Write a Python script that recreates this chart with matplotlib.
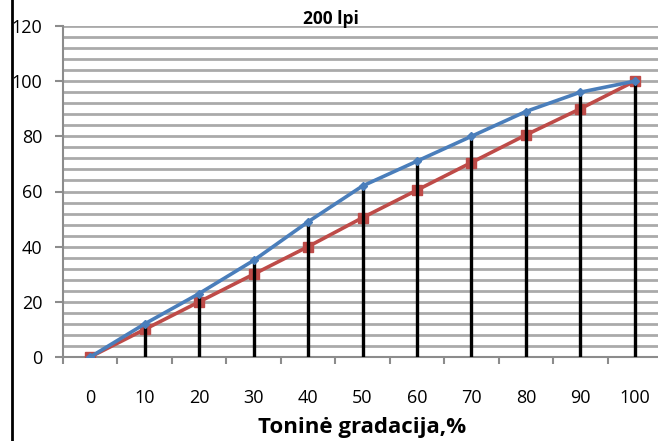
import numpy as np
import matplotlib
matplotlib.use('Agg')
import matplotlib.pyplot as plt
from matplotlib.lines import Line2D

# Data
gradacija = [0, 10, 20, 30, 40, 50, 60, 70, 80, 90, 100]
blue_vals = [0, 12, 23, 35, 49, 62, 71, 80, 89, 96, 100]
red_vals = [0, 10, 20, 30, 40, 50.5, 60.5, 70.5, 80.5, 90, 100]
yticks = [0, 20, 40, 60, 80, 100, 120]


def main():
    plt.rcParams['font.family'] = ['Open Sans', 'DejaVu Sans']
    fig = plt.figure(figsize=(6.58, 4.41), dpi=100)
    ax = fig.add_axes([63 / 658, 84 / 441, 599 / 658, 331 / 441])

    # horizontal grid every 4 units
    for g in np.arange(4, 121, 4):
        ax.axhline(g, color='#aaaaaa', lw=2.0, zorder=0)

    # drop lines from 0 to the blue curve
    ax.vlines(gradacija[1:], 0, blue_vals[1:], color='black', lw=2.4, zorder=3)

    ax.plot(gradacija, blue_vals, color='#4a7ebb', lw=2.6, marker='D',
            markersize=4.5, zorder=4)
    ax.plot(gradacija, red_vals, color='#be4b48', lw=2.6, marker='s',
            markersize=7, zorder=2)

    ax.set_xlim(-5, 105)
    ax.set_ylim(0, 120)
    ax.set_yticks(yticks)
    ax.set_xticks(gradacija)
    ax.set_xticks(np.arange(-5, 106, 10), minor=True)
    ax.tick_params(axis='x', which='major', length=0, pad=23, labelsize=13)
    ax.tick_params(axis='x', which='minor', length=5, width=1.5, color='#8c8c8c')
    ax.tick_params(axis='y', length=6, width=1.5, color='#8c8c8c', labelsize=13,
                   pad=9)
    for s in ['top', 'right']:
        ax.spines[s].set_visible(False)
    for s in ['left', 'bottom']:
        ax.spines[s].set_color('#8c8c8c')
        ax.spines[s].set_linewidth(1.5)
    ax.spines['bottom'].set_zorder(1)

    fig.text(331 / 658, 1 - 19 / 441, '200 lpi', ha='center', va='center',
             fontsize=12.5, fontweight='bold')
    fig.text(362 / 658, 1 - 428 / 441, 'Toninė gradacija,%', ha='center',
             va='center', fontsize=16, fontweight='bold')
    fig.add_artist(Line2D([12 / 658, 12 / 658], [0, 1], color='black', lw=2))

    fig.savefig('out.png', dpi=100)


if __name__ == "__main__":
    main()
